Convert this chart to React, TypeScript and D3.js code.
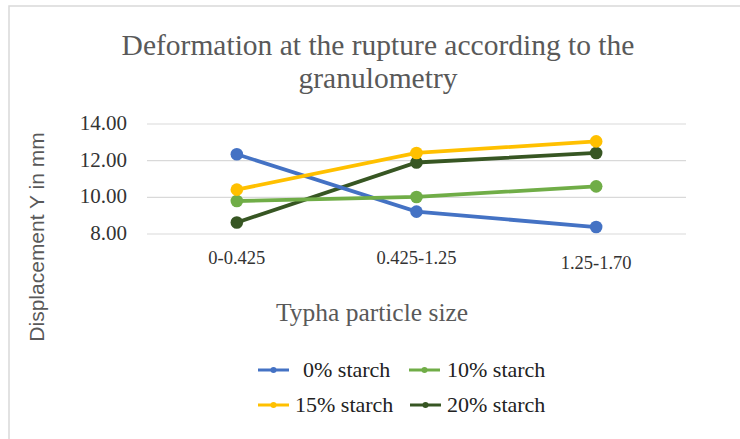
import React, { useEffect, useRef } from "react";
import * as d3 from "d3";

const categories = ["0-0.425", "0.425-1.25", "1.25-1.70"];
const seriesNames = ["0% starch", "10% starch", "15% starch", "20% starch"];
const starch0 = [12.35, 9.22, 8.38];
const starch10 = [9.8, 10.02, 10.6];
const starch15 = [10.42, 12.42, 13.05];
const starch20 = [8.63, 11.9, 12.42];
const yTicks = [8, 10, 12, 14];
const colors = ["#4472c4", "#70ad47", "#ffc000", "#375623"];

const SERIF = "Liberation Serif";
const SANS = "Liberation Sans";

export default function App() {
  const ref = useRef<SVGSVGElement | null>(null);

  useEffect(() => {
    const width = 740,
      height = 439;
    const left = 147,
      right = 686,
      top = 124,
      bottom = 234;

    const svg = d3.select(ref.current);
    svg.selectAll("*").remove();

    svg.append("rect").attr("width", width).attr("height", height).attr("fill", "#fff");
    svg
      .append("rect")
      .attr("x", 9)
      .attr("y", 6)
      .attr("width", width + 20)
      .attr("height", height + 20)
      .attr("fill", "none")
      .attr("stroke", "#d9d9d9")
      .attr("stroke-width", 1.5);

    const xScale = d3.scaleBand().domain(categories).range([left, right]);
    const yScale = d3.scaleLinear().domain([8, 14]).range([bottom, top]);

    // grid
    svg
      .selectAll(".grid")
      .data(yTicks)
      .join("line")
      .attr("x1", left)
      .attr("x2", right)
      .attr("y1", (d) => yScale(d))
      .attr("y2", (d) => yScale(d))
      .attr("stroke", "#d9d9d9")
      .attr("stroke-width", 1.2);

    svg
      .selectAll(".ylab")
      .data(yTicks)
      .join("text")
      .attr("x", 127)
      .attr("y", (d) => yScale(d) + 6)
      .attr("text-anchor", "end")
      .attr("font-family", SERIF)
      .attr("font-size", 21)
      .attr("fill", "#333")
      .text((d) => d3.format(".2f")(d));

    svg
      .selectAll(".xlab")
      .data(categories)
      .join("text")
      .attr("x", (d) => (xScale(d) as number) + xScale.bandwidth() / 2)
      .attr("y", (d, i) => (i === 2 ? 269 : 264))
      .attr("text-anchor", "middle")
      .attr("font-family", SERIF)
      .attr("font-size", 18.5)
      .attr("fill", "#333")
      .text((d) => d);

    const allSeries = [starch0, starch10, starch15, starch20];
    const line = d3
      .line<number>()
      .x((d, i) => (xScale(categories[i]) as number) + xScale.bandwidth() / 2)
      .y((d) => yScale(d));

    const order = [3, 0, 1, 2];
    order.forEach((k) => {
      const vals = allSeries[k];
      svg
        .append("path")
        .attr("d", line(vals))
        .attr("fill", "none")
        .attr("stroke", colors[k])
        .attr("stroke-width", 3.8);
      svg
        .append("g")
        .selectAll("circle")
        .data(vals)
        .join("circle")
        .attr("cx", (d, i) => (xScale(categories[i]) as number) + xScale.bandwidth() / 2)
        .attr("cy", (d) => yScale(d))
        .attr("r", 6.3)
        .attr("fill", colors[k]);
    });

    // titles
    const title = svg
      .append("text")
      .attr("text-anchor", "middle")
      .attr("font-family", SERIF)
      .attr("font-size", 29.5)
      .attr("fill", "#595959");
    title.append("tspan").attr("x", 378).attr("y", 55).text("Deformation at the rupture according to the");
    title.append("tspan").attr("x", 378).attr("y", 88).text("granulometry");

    svg
      .append("text")
      .attr("x", 372)
      .attr("y", 321)
      .attr("text-anchor", "middle")
      .attr("font-family", SERIF)
      .attr("font-size", 25.5)
      .attr("fill", "#595959")
      .text("Typha particle  size");

    svg
      .append("text")
      .attr("transform", "translate(44,237) rotate(-90)")
      .attr("text-anchor", "middle")
      .attr("font-family", SANS)
      .attr("font-size", 21)
      .attr("fill", "#595959")
      .text("Displacement Y in mm");

    // legend
    const legendPos = [
      { x: 258, y: 370, tx: 303 },
      { x: 409, y: 370, tx: 447 },
      { x: 258, y: 405, tx: 295 },
      { x: 410, y: 405, tx: 447 },
    ];
    const legend = svg
      .selectAll(".legend")
      .data(seriesNames)
      .join("g")
      .attr("transform", (d, i) => `translate(${legendPos[i].x},${legendPos[i].y})`);
    legend
      .append("line")
      .attr("x1", 0)
      .attr("x2", 31)
      .attr("stroke", (d, i) => colors[i])
      .attr("stroke-width", 3);
    legend
      .append("circle")
      .attr("cx", 15.5)
      .attr("r", 3)
      .attr("fill", (d, i) => colors[i]);
    legend
      .append("text")
      .attr("x", (d, i) => legendPos[i].tx - legendPos[i].x)
      .attr("y", 7)
      .attr("font-family", SERIF)
      .attr("font-size", 22)
      .attr("fill", "#222")
      .text((d) => d);
  }, []);

  return (
    <svg
      ref={ref}
      width={740}
      height={439}
      style={{ position: "absolute", left: 0, top: 0 }}
    />
  );
}
